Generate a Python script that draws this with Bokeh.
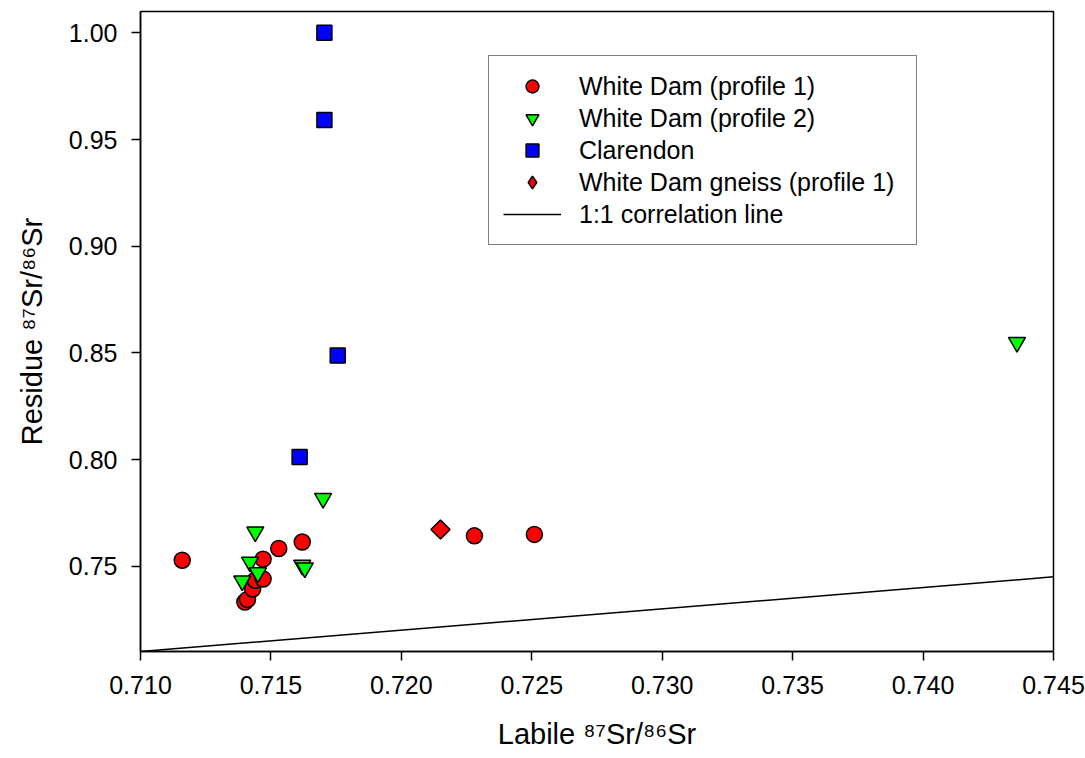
import math
from bokeh.plotting import figure
from bokeh.models import Range1d, FixedTicker, NumeralTickFormatter, Legend, LegendItem
from bokeh.embed import file_html
from bokeh.resources import INLINE

# ---- data ----
wd1_labile = [0.7116, 0.7140, 0.7141, 0.7143, 0.7144, 0.7147, 0.7147, 0.7153, 0.7162, 0.7228, 0.7251]
wd1_residue = [0.7528, 0.7332, 0.7344, 0.7393, 0.7434, 0.7440, 0.7533, 0.7583, 0.7613, 0.7642, 0.7649]

wd2_labile = [0.7139, 0.7142, 0.7144, 0.7145, 0.7162, 0.7163, 0.7170, 0.7436]
wd2_residue = [0.7431, 0.7519, 0.7661, 0.7469, 0.7505, 0.7492, 0.7818, 0.8549]

clar_labile = [0.71705, 0.71705, 0.71756, 0.71610]
clar_residue = [1.0000, 0.9591, 0.8487, 0.8012]

gneiss_labile = [0.7215]
gneiss_residue = [0.7672]

line_x = [0.710, 0.745]
line_y = [0.710, 0.745]

x_ticks = [0.710, 0.715, 0.720, 0.725, 0.730, 0.735, 0.740, 0.745]
y_ticks = [0.75, 0.80, 0.85, 0.90, 0.95, 1.00]

FONT = "Liberation Sans"

p = figure(width=1085, height=758, output_backend="svg", toolbar_location=None,
           x_range=Range1d(0.710, 0.745), y_range=Range1d(0.710, 1.010),
           min_border_left=140, min_border_right=32, min_border_top=11, min_border_bottom=107)

p.xgrid.visible = False
p.ygrid.visible = False
p.outline_line_color = "black"
p.outline_line_width = 1.5
p.background_fill_color = "white"
p.border_fill_color = "white"

for ax in (p.xaxis[0], p.yaxis[0]):
    ax.axis_line_width = 1.5
    ax.axis_line_color = "black"
    ax.major_tick_out = 9
    ax.major_tick_in = 0
    ax.major_tick_line_width = 1.5
    ax.minor_tick_out = 0
    ax.minor_tick_in = 0
    ax.major_label_text_font = FONT
    ax.major_label_text_font_size = "25px"
    ax.major_label_text_color = "black"
    ax.axis_label_text_font = FONT
    ax.axis_label_text_font_size = "29px"
    ax.axis_label_text_font_style = "normal"
    ax.axis_label_text_color = "black"

p.xaxis[0].ticker = FixedTicker(ticks=x_ticks)
p.xaxis[0].formatter = NumeralTickFormatter(format="0.000")
p.xaxis[0].major_label_standoff = 15
p.xaxis[0].axis_label = "Labile \u2078\u2077Sr/\u2078\u2076Sr"
p.xaxis[0].axis_label_standoff = 21

p.yaxis[0].ticker = FixedTicker(ticks=y_ticks)
p.yaxis[0].formatter = NumeralTickFormatter(format="0.00")
p.yaxis[0].major_label_standoff = 14
p.yaxis[0].axis_label = "Residue \u2078\u2077Sr/\u2078\u2076Sr"
p.yaxis[0].axis_label_standoff = 18

r_line = p.line(line_x, line_y, line_color="black", line_width=1.5)
r_wd1 = p.scatter(wd1_labile, wd1_residue, marker="circle", size=16,
                  fill_color="#ff0000", line_color="black", line_width=1.5)
r_wd2 = p.scatter(wd2_labile, wd2_residue, marker="inverted_triangle", size=17,
                  fill_color="#00ff00", line_color="black", line_width=1.5)
r_clar = p.scatter(clar_labile, clar_residue, marker="square", size=15,
                   fill_color="#0000ff", line_color="black", line_width=1.5)
# legend proxy (hidden under the rotated square)
r_gn_leg = p.scatter(gneiss_labile, gneiss_residue, marker="diamond", size=15,
                     fill_color="#ff0000", line_color="black", line_width=1.5)
r_gn = p.scatter(gneiss_labile, gneiss_residue, marker="square", size=13.5, angle=math.pi / 4,
                 fill_color="#ff0000", line_color="black", line_width=1.5)

legend = Legend(items=[
    LegendItem(label="White Dam (profile 1)", renderers=[r_wd1]),
    LegendItem(label="White Dam (profile 2)", renderers=[r_wd2]),
    LegendItem(label="Clarendon", renderers=[r_clar]),
    LegendItem(label="White Dam gneiss (profile 1)", renderers=[r_gn_leg]),
    LegendItem(label="1:1 correlation line", renderers=[r_line]),
], location=(348, 406))
legend.glyph_width = 58
legend.glyph_height = 32
legend.label_height = 26
legend.spacing = 0
legend.padding = 14
legend.margin = 0
legend.label_standoff = 18
legend.label_width = 323
legend.label_text_font = FONT
legend.label_text_font_size = "25px"
legend.label_text_color = "black"
legend.border_line_color = "black"
legend.border_line_width = 1.2
legend.background_fill_color = "white"
legend.background_fill_alpha = 1.0
p.add_layout(legend)

open("out.html", "w").write(file_html(p, INLINE))
